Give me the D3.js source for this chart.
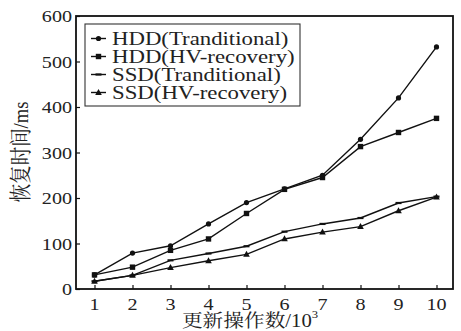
<!DOCTYPE html>
<html><head><meta charset="utf-8">
<script src="https://cdn.jsdelivr.net/npm/d3@7"></script>
<style>html,body{margin:0;padding:0;background:#fff;}svg{display:block;}</style>
</head><body>
<svg id="c" width="461" height="331"></svg>
<script>
const categories = [1,2,3,4,5,6,7,8,9,10];
const hddTrad = [31, 79, 95, 143, 190, 220, 250, 329, 420, 532];
const hddHV   = [31, 48, 85, 110, 166, 219, 245, 313, 344, 375];
const ssdTrad = [17, 30, 63, 78, 94, 126, 143, 156, 189, 203];
const ssdHV   = [17, 30, 47, 62, 76, 110, 125, 137, 172, 202];
const seriesNames = ["HDD(Tranditional)", "HDD(HV-recovery)", "SSD(Tranditional)", "SSD(HV-recovery)"];
const yTicks = [0,100,200,300,400,500,600];
const xLabel = "更新操作数/10";
const xLabelSup = "3";
const yLabel = "恢复时间/ms";

const svg = d3.select("#c");
const L = 76, R = 453, T = 16, B = 289;
const SX = 1.15;
const serif = "'Liberation Serif','DejaVu Serif',serif";
const cjk = "'Liberation Serif','Noto Serif CJK SC','Noto Sans CJK SC',serif";

const x = d3.scaleLinear().domain([1,10]).range([L+18.5, R-16.5]);
const y = d3.scaleLinear().domain([0,600]).range([B, T]);

// frame
svg.append("rect").attr("x", L).attr("y", T).attr("width", R-L).attr("height", B-T)
  .attr("fill","none").attr("stroke","#111").attr("stroke-width",1.8);

// ticks (inward)
const gx = svg.append("g").attr("transform", `translate(0,${B})`)
  .call(d3.axisBottom(x).tickValues(categories).tickSize(-4).tickFormat(""));
const gy = svg.append("g").attr("transform", `translate(${L},0)`)
  .call(d3.axisLeft(y).tickValues(yTicks).tickSize(-4).tickFormat(""));
[gx, gy].forEach(g => { g.select(".domain").remove(); g.selectAll("line").attr("stroke","#111").attr("stroke-width",1.2); });

// tick labels
categories.forEach(c => {
  svg.append("text").attr("transform", `translate(${x(c)},310) scale(${SX},1)`)
    .attr("text-anchor","middle").attr("font-family",serif).attr("font-size",17.5).attr("fill","#222").text(c);
});
yTicks.forEach(v => {
  svg.append("text").attr("transform", `translate(72,${y(v)+6}) scale(${SX},1)`)
    .attr("text-anchor","end").attr("font-family",serif).attr("font-size",17.5).attr("fill","#222").text(v);
});

// axis titles
const xt = svg.append("text").attr("transform", `translate(250,326.5) scale(${SX},1)`)
  .attr("text-anchor","middle").attr("font-family",cjk).attr("font-size",18).attr("fill","#222");
xt.append("tspan").text(xLabel);
xt.append("tspan").attr("font-size",11).attr("dy",-9).text(xLabelSup);

svg.append("text").attr("transform", `translate(28,152) scale(${SX},1) rotate(-90)`)
  .attr("text-anchor","middle").attr("font-family",cjk).attr("font-size",18.5).attr("fill","#222").text(yLabel);

// markers
function marker(g, type, cx, cy) {
  if (type === "circle") g.append("circle").attr("cx",cx).attr("cy",cy).attr("r",2.6).attr("fill","#111");
  else if (type === "square") g.append("rect").attr("x",cx-2.7).attr("y",cy-2.7).attr("width",5.4).attr("height",5.4).attr("fill","#111");
  else if (type === "dash") g.append("rect").attr("x",cx-3).attr("y",cy-1.1).attr("width",6).attr("height",2.2).attr("fill","#111");
  else if (type === "tri") g.append("path").attr("d",`M${cx},${cy-3.6}L${cx+3.3},${cy+2.4}L${cx-3.3},${cy+2.4}Z`).attr("fill","#111");
}

const series = [
  {name: seriesNames[0], values: hddTrad, m: "circle"},
  {name: seriesNames[1], values: hddHV, m: "square"},
  {name: seriesNames[2], values: ssdTrad, m: "dash"},
  {name: seriesNames[3], values: ssdHV, m: "tri"}
];
const line = d3.line().x((d,i) => x(categories[i])).y(d => y(d));
series.forEach(s => {
  const g = svg.append("g");
  g.append("path").attr("d", line(s.values)).attr("fill","none").attr("stroke","#111").attr("stroke-width",1.4);
  s.values.forEach((v,i) => marker(g, s.m, x(categories[i]), y(v)));
});

// legend
const lg = svg.append("g");
lg.append("rect").attr("x",85).attr("y",24).attr("width",215).attr("height",82)
  .attr("fill","#fff").attr("stroke","#333").attr("stroke-width",1.1);
series.forEach((s,i) => {
  const by = 45 + i*18;
  const cy = by - 6.5;
  lg.append("line").attr("x1",91).attr("x2",106).attr("y1",cy).attr("y2",cy).attr("stroke","#111").attr("stroke-width",1.4);
  marker(lg, s.m, 98.5, cy);
  lg.append("text").attr("transform", `translate(112,${by}) scale(1.2,1)`)
    .attr("font-family",serif).attr("font-size",19).attr("fill","#222").text(s.name);
});
</script>
</body></html>
